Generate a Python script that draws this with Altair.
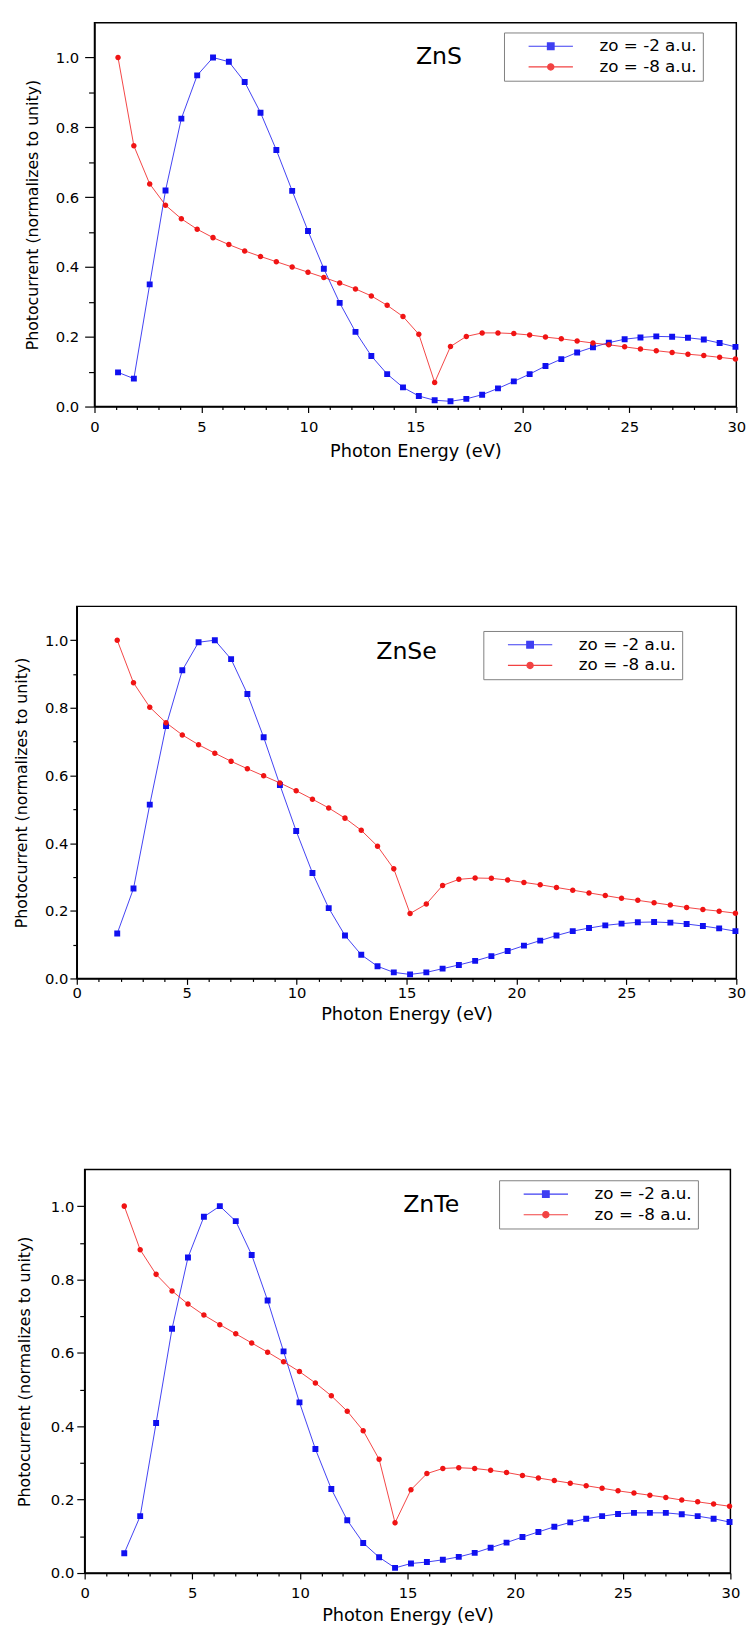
import altair as alt
import pandas as pd

# ---------------- data ----------------
energy_zns = [1.10, 1.84, 2.58, 3.32, 4.06, 4.80, 5.54, 6.28, 7.02, 7.76,
              8.50, 9.24, 9.98, 10.72, 11.46, 12.20, 12.94, 13.68, 14.42, 15.16,
              15.90, 16.64, 17.38, 18.12, 18.86, 19.60, 20.34, 21.08, 21.82, 22.56,
              23.30, 24.04, 24.78, 25.52, 26.26, 27.00, 27.74, 28.48, 29.22, 29.96]
zns_zo2 = [0.098, 0.080, 0.350, 0.619, 0.825, 0.949, 1.000, 0.988, 0.930, 0.842,
           0.735, 0.618, 0.503, 0.395, 0.297, 0.214, 0.145, 0.093, 0.055, 0.030,
           0.018, 0.015, 0.022, 0.034, 0.052, 0.072, 0.093, 0.116, 0.136, 0.155,
           0.170, 0.183, 0.193, 0.198, 0.201, 0.200, 0.197, 0.192, 0.182, 0.171]
zns_zo8 = [1.000, 0.747, 0.638, 0.577, 0.538, 0.508, 0.484, 0.464, 0.446, 0.430,
           0.415, 0.400, 0.385, 0.370, 0.354, 0.337, 0.317, 0.290, 0.258, 0.207,
           0.069, 0.172, 0.201, 0.211, 0.211, 0.209, 0.205, 0.199, 0.194, 0.188,
           0.182, 0.177, 0.171, 0.165, 0.160, 0.155, 0.150, 0.146, 0.141, 0.136]

energy_znse = [1.84, 2.58, 3.32, 4.06, 4.80, 5.54, 6.28, 7.02, 7.76, 8.50,
               9.24, 9.98, 10.72, 11.46, 12.20, 12.94, 13.68, 14.42, 15.16, 15.90,
               16.64, 17.38, 18.12, 18.86, 19.60, 20.34, 21.08, 21.82, 22.56, 23.30,
               24.04, 24.78, 25.52, 26.26, 27.00, 27.74, 28.48, 29.22, 29.96]
znse_zo2 = [0.133, 0.266, 0.514, 0.746, 0.911, 0.994, 1.000, 0.944, 0.841, 0.713,
            0.572, 0.436, 0.312, 0.208, 0.127, 0.070, 0.036, 0.018, 0.012, 0.018,
            0.029, 0.040, 0.052, 0.066, 0.081, 0.097, 0.112, 0.127, 0.140, 0.149,
            0.157, 0.162, 0.166, 0.167, 0.165, 0.161, 0.155, 0.148, 0.140]
znse_zo8 = [1.000, 0.874, 0.802, 0.756, 0.720, 0.691, 0.666, 0.642, 0.620, 0.599,
            0.578, 0.555, 0.530, 0.504, 0.474, 0.438, 0.391, 0.324, 0.192, 0.220,
            0.275, 0.293, 0.297, 0.296, 0.291, 0.284, 0.277, 0.269, 0.261, 0.253,
            0.245, 0.237, 0.231, 0.224, 0.217, 0.210, 0.204, 0.199, 0.193]

energy_znte = [1.84, 2.58, 3.32, 4.06, 4.80, 5.54, 6.28, 7.02, 7.76, 8.50,
               9.24, 9.98, 10.72, 11.46, 12.20, 12.94, 13.68, 14.42, 15.16, 15.90,
               16.64, 17.38, 18.12, 18.86, 19.60, 20.34, 21.08, 21.82, 22.56, 23.30,
               24.04, 24.78, 25.52, 26.26, 27.00, 27.74, 28.48, 29.22, 29.96]
znte_zo2 = [0.054, 0.155, 0.409, 0.666, 0.860, 0.971, 1.000, 0.959, 0.867, 0.743,
            0.604, 0.465, 0.338, 0.229, 0.144, 0.082, 0.043, 0.014, 0.026, 0.030,
            0.036, 0.044, 0.055, 0.069, 0.083, 0.098, 0.112, 0.126, 0.138, 0.148,
            0.155, 0.161, 0.164, 0.164, 0.164, 0.160, 0.155, 0.148, 0.139]
znte_zo8 = [1.000, 0.881, 0.814, 0.769, 0.733, 0.703, 0.677, 0.652, 0.627, 0.602,
            0.576, 0.549, 0.518, 0.483, 0.441, 0.388, 0.310, 0.137, 0.227, 0.271,
            0.285, 0.287, 0.285, 0.280, 0.274, 0.266, 0.259, 0.252, 0.245, 0.238,
            0.231, 0.224, 0.218, 0.212, 0.206, 0.199, 0.194, 0.188, 0.182]

series_labels = ["zo = -2 a.u.", "zo = -8 a.u."]
series_colors = ["#1010f0", "#f01414"]
panel_names = ["ZnS", "ZnSe", "ZnTe"]
name_energy = [16.1, 15.0, 16.1]
name_value = [1.0, 0.964, 1.003]

x_tick_values = [0, 1, 2, 3, 4, 5, 6, 7, 8, 9, 10, 11, 12, 13, 14, 15, 16, 17, 18, 19,
                 20, 21, 22, 23, 24, 25, 26, 27, 28, 29, 30]
y_tick_values = [0.0, 0.1, 0.2, 0.3, 0.4, 0.5, 0.6, 0.7, 0.8, 0.9, 1.0]

# marker shapes: a short line with a square / circle in the middle (the line only
# shows in the legend, where the symbol is stroked)
square_path = "M-1,0H1M-0.15,-0.15H0.15V0.15H-0.15Z"
circle_path = "M-1,0H1M0.14,0A0.14,0.14,0,1,1,-0.14,0A0.14,0.14,0,1,1,0.14,0Z"

FONT = "DejaVu Sans"


def make_panel(energy, zo2, zo8, idx, w, h, leg_xy, xo, yo):
    n = len(energy)
    df = pd.DataFrame({
        "energy": list(energy) + list(energy),
        "value": list(zo2) + list(zo8),
        "series": [series_labels[0]] * n + [series_labels[1]] * n,
    })
    legend = alt.Legend(
        orient="none", legendX=leg_xy[0], legendY=leg_xy[1], title=None,
        fillColor="white", strokeColor="#808080", padding=6, cornerRadius=0,
        symbolSize=2025, clipHeight=16, rowPadding=4, symbolOffset=18,
        labelOffset=26, labelFont=FONT, labelFontSize=17, labelColor="black",
        symbolStrokeWidth=1.2,
    )
    x = alt.X(
        "energy:Q",
        scale=alt.Scale(domain=[0, 30], nice=False, zero=False),
        axis=alt.Axis(
            title="Photon Energy (eV)", values=x_tick_values,
            labelExpr="datum.value % 5 === 0 ? datum.label : ''",
            tickSize={"condition": {"test": "datum.value % 5 === 0", "value": xo["major"]},
                      "value": xo["minor"]},
            labelPadding=xo["lp"], titlePadding=xo["tp"], labelFlush=False,
            titleFontSize=18, labelFontSize=15,
        ),
    )
    y = alt.Y(
        "value:Q",
        scale=alt.Scale(domain=[0, 1.1], nice=False, zero=False),
        axis=alt.Axis(
            title="Photocurrent (normalizes to unity)", values=y_tick_values,
            labelExpr="round(datum.value * 10) % 2 === 0 ? format(datum.value, '.1f') : ''",
            tickSize={"condition": {"test": "round(datum.value * 10) % 2 === 0", "value": yo["major"]},
                      "value": yo["minor"]},
            labelPadding=yo["lp"], titlePadding=yo["tp"],
            titleFontSize=16, labelFontSize=15,
        ),
    )
    color = alt.Color("series:N", scale=alt.Scale(domain=series_labels, range=series_colors),
                      legend=legend)
    shape = alt.Shape("series:N", scale=alt.Scale(domain=series_labels,
                                                  range=[square_path, circle_path]),
                      legend=legend)
    base = alt.Chart(df)
    lines = base.mark_line(strokeWidth=1, opacity=0.8).encode(x=x, y=y, color=color)
    points = base.mark_point(filled=True, size=1600, opacity=1).encode(
        x=x, y=y, color=color, shape=shape)
    name_df = pd.DataFrame({"energy": [name_energy[idx]], "value": [name_value[idx]],
                            "label": [panel_names[idx]]})
    name = alt.Chart(name_df).mark_text(font=FONT, fontSize=24, color="black").encode(
        x=x, y=y, text="label:N")
    return alt.layer(lines, points, name).properties(width=w, height=h)


def spacer(w):
    sdf = pd.DataFrame({"v": [0]})
    return alt.Chart(sdf).mark_point(opacity=0).encode(
        x=alt.X("v:Q", axis=None), y=alt.Y("v:Q", axis=None)
    ).properties(width=w, height=1, view=alt.ViewBackground(stroke="transparent"))


def row(sp_w, panel):
    return alt.hconcat(spacer(sp_w), panel, spacing=0).resolve_scale(
        color="independent", shape="independent"
    ).resolve_legend(color="independent", shape="independent")


p1 = make_panel(energy_zns, zns_zo2, zns_zo8, 0, 652, 390, (416, 10),
                {"major": 6, "minor": 3, "lp": 7, "tp": 9},
                {"major": 10, "minor": 6, "lp": 6, "tp": 15})
p2 = make_panel(energy_znse, znse_zo2, znse_zo8, 1, 670, 378, (413, 25),
                {"major": 6, "minor": 3, "lp": 1, "tp": 6},
                {"major": 7, "minor": 4, "lp": 2, "tp": 15})
p3 = make_panel(energy_znte, znte_zo2, znte_zo8, 2, 656, 410, (421, 11),
                {"major": 6, "minor": 3, "lp": 7, "tp": 6},
                {"major": 8, "minor": 5, "lp": 3, "tp": 18})

chart = alt.vconcat(row(22, p1), row(11, p2), row(14, p3), spacing=144).resolve_scale(
    color="independent", shape="independent"
).resolve_legend(
    color="independent", shape="independent"
).properties(
    padding={"left": 0, "top": 7, "right": 0, "bottom": 0},
    background="white",
).configure_view(
    stroke="black", strokeWidth=1.5
).configure_axis(
    grid=False, domainColor="black", domainWidth=1.5, tickColor="black", tickWidth=1.2,
    labelFont=FONT, labelColor="black", titleFont=FONT, titleColor="black",
    titleFontWeight="normal",
)

chart.save("out.html", embed_options={"renderer": "svg", "actions": False})
